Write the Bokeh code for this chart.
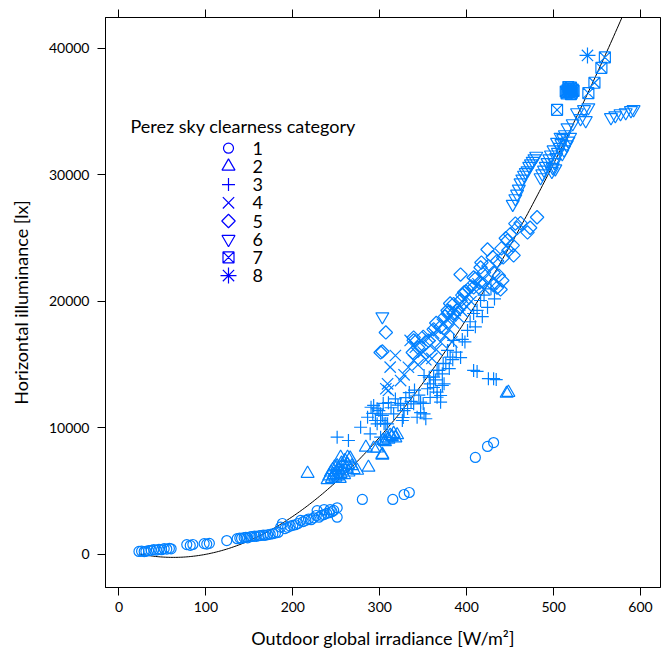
import numpy as np
from bokeh.plotting import figure
from bokeh.models import Range1d, FixedTicker, LinearAxis, Label, CustomJSTickFormatter
from bokeh.embed import file_html
from bokeh.resources import INLINE

# ---- data: outdoor global irradiance [W/m2] vs horizontal illuminance [lx],
# grouped by Perez sky clearness category (1..8)
cat1_x = [23, 26, 29, 31, 34, 37, 40, 43, 46, 49, 52, 55, 58, 60,
          78, 82, 85, 98, 101, 104, 124,
          136, 139, 141, 144, 146, 148, 151, 153, 156, 158, 161, 163, 166, 168, 171, 174, 177, 180, 183,
          186, 188, 191, 194, 197, 200, 203, 206, 209, 212, 215, 218, 221, 224, 227, 230, 233, 236, 239,
          242, 245, 247, 251, 251, 228, 236, 243,
          280, 315, 328, 334, 410, 424, 431]
cat1_y = [240, 260, 230, 250, 300, 330, 390, 350, 400, 380, 460, 430, 480, 450,
          780, 720, 790, 860, 820, 880, 1100,
          1250, 1300, 1280, 1330, 1350, 1320, 1400, 1420, 1450, 1430, 1480, 1500, 1530, 1510, 1560, 1600, 1640, 1700, 1740,
          2160, 2450, 2050, 2150, 2250, 2300, 2350, 2450, 2690, 2600, 2700, 2800, 2750, 2900, 3080, 2950, 3100, 3150, 3250,
          3300, 3380, 3480, 3690, 2950, 3470, 3550, 3550,
          4350, 4350, 4740, 4900, 7670, 8540, 8850]

cat2_x = [217, 240, 242, 244, 245, 246, 247, 248, 249, 250, 251, 252, 253, 254, 255, 256, 257, 258, 259, 260,
          262, 263, 264, 266, 268, 270, 274, 255, 263, 284, 287, 293, 297, 303, 303, 304, 306, 308, 310, 312,
          314, 316, 318, 320, 446, 448]
cat2_y = [6400, 5900, 6200, 6500, 6000, 6700, 6300, 6900, 6100, 6500, 7000, 6200, 6700, 6000, 6400, 7200, 6600, 6900, 6300, 7400,
          6800, 7100, 6500, 7600, 7000, 6700, 6640, 7670, 7670, 8460, 6880, 8380, 8400, 7900, 7830, 9000, 8900, 9200, 9100, 9400,
          9300, 9550, 9200, 9450, 12730, 12800]

cat3_x = [251, 264, 278, 286, 289, 290, 292, 293, 295, 297, 297, 299, 301, 301, 301, 303, 304, 305, 307, 309,
          310, 313, 316, 318, 321, 324, 326, 327, 328, 330, 332, 334, 336, 339, 340, 343, 345, 347, 347, 350,
          351, 353, 355, 358, 358, 362, 364, 366, 366, 370, 370, 372, 374, 351, 357, 362, 368, 372, 376, 381,
          366, 373, 378, 380, 384, 385, 388, 393, 395, 398, 401, 404, 408, 410, 412, 416, 418, 420, 424, 428,
          432, 408, 412, 425, 431, 434]
cat3_y = [9270, 9010, 10060, 10850, 9540, 11640, 11150, 11780, 10590, 10330, 11520, 11380, 9270, 10590, 11120, 10990, 11940, 10330, 10360, 10330,
          12000, 11600, 11120, 12300, 11800, 11940, 10590, 10830, 11380, 12400, 11540, 12800, 12100, 11910, 13000, 10850, 12600, 12040, 11220, 11940,
          11120, 10730, 13100, 12410, 13490, 13200, 13800, 12430, 12830, 12040, 12570, 13360, 13490, 14150, 14020, 14020, 14550, 14280, 15080, 15600,
          14550, 15100, 16130, 14700, 15400, 16920, 16000, 15570, 17000, 16800, 17710, 18400, 19050, 18000, 19300, 20080, 18800, 20500, 19530, 21000,
          20200, 14550, 14470, 13900, 13900, 13830]

cat4_x = [307, 309, 310, 312, 318, 324, 328, 333, 335, 339, 341, 344, 347, 347, 350, 353, 355, 358, 360, 362,
          365, 367, 370, 372, 375, 377, 380, 382, 385, 387, 390, 392, 395, 397, 400, 402, 405, 408, 413, 418,
          420, 425, 383]
cat4_y = [13100, 13490, 12960, 14810, 15730, 13750, 14200, 14800, 16920, 15340, 16390, 15000, 15870, 16920, 16000, 15400, 17180, 16500, 15500, 17500,
          16200, 17800, 16800, 18200, 17300, 18600, 17800, 18900, 18300, 19300, 18800, 19700, 19200, 20200, 19600, 20600, 20000, 21000, 21400, 21800,
          21000, 21500, 16800]

cat5_x = [301, 303, 307, 338, 339, 344, 339, 350, 356, 362, 365, 370, 375, 378, 379, 381, 385, 389, 385, 393,
          397, 399, 395, 405, 408, 408, 393, 410, 415, 416, 417, 420, 424, 425, 431, 431, 435, 437, 439, 441,
          442, 430, 435, 440, 445, 447, 448, 450, 453, 454, 456, 458, 462, 470, 473, 481]
cat5_y = [15970, 16050, 17550, 15970, 16920, 16360, 17150, 17200, 16900, 17800, 18300, 18000, 18800, 19290, 19130, 19840, 19050, 19290, 19800, 20080,
          20710, 20790, 20500, 21200, 21110, 21900, 22130, 21800, 21500, 22690, 23080, 22300, 24110, 22800, 21270, 22290, 21100, 22050, 20950, 21660,
          23480, 23500, 23200, 24200, 25000, 24820, 24030, 25300, 24430, 23640, 26160, 25800, 26200, 25460, 25830, 26660]

cat6_x = [303,
          453, 456, 458, 460, 462, 464, 466, 468, 470, 472, 474, 476, 478, 480,
          485, 487, 489, 491, 493, 495, 497,
          498, 499, 500, 501, 502, 503, 504, 505, 507, 508, 509, 510, 511, 512, 513, 515, 517, 519,
          516, 522, 527, 531, 535, 537, 540,
          566, 571, 577, 583, 589, 592]
cat6_y = [18810,
          27700, 28140, 28500, 28900, 29400, 29700, 30000, 30200, 30350, 30700, 30900, 31100, 31300, 31500,
          29800, 30100, 30400, 30700, 31000, 31300, 31600,
          30300, 30600, 32000, 31000, 30500, 31400, 32600, 31800, 32200, 33000, 32500, 31700, 32900, 32000, 33200, 32400, 32700, 33000,
          33750, 34070, 34940, 34470, 35180, 34310, 35330,
          34550, 34700, 34860, 34940, 35100, 35180]

cat7_x = [504, 540, 547, 555, 559, 514, 515, 516, 517, 517, 518, 519, 520, 520, 521, 522, 523]
cat7_y = [35150, 36470, 37290, 38470, 39300, 36600, 36450, 36700, 36550, 36950, 36800, 36600, 36900, 36400, 36500, 36750, 36650]

cat8_x = [539]
cat8_y = [39450]

categories = ["1", "2", "3", "4", "5", "6", "7", "8"]

# points
curve_x = [30, 74, 105, 132, 186, 243, 276, 297, 347, 355, 427.5, 460, 470, 516, 571]
curve_y = [-25, -80, 55, 450, 2160, 5590, 7430, 9270, 13230, 14020, 21660, 25610, 27190, 32730, 41420]

x_ticks = [0, 100, 200, 300, 400, 500, 600]
y_ticks = [0, 10000, 20000, 30000, 40000]

# ---- styling
POINT_COLOR = "#0080ff"
KEY_COLOR = "#0000ff"
FONT = "Lato"
W, H = 662, 660
BORDER_L, BORDER_R, BORDER_T, BORDER_B = 105, 2, 17, 73
FRAME_W = W - BORDER_L - BORDER_R
FRAME_H = H - BORDER_T - BORDER_B
X0, X1 = -15.5, 623
Y0, Y1 = -2610, 42450

# marker, size, angle for each category symbol
symbols = [("circle", 10, 0.0), ("triangle", 13, 0.0), ("cross", 13, 0.0), ("x", 16, 0.0),
           ("square", 9.5, np.pi / 4), ("inverted_triangle", 13, 0.0), ("square_x", 11, 0.0),
           ("asterisk", 16, 0.0)]
series = [(cat1_x, cat1_y), (cat2_x, cat2_y), (cat3_x, cat3_y), (cat4_x, cat4_y),
          (cat5_x, cat5_y), (cat6_x, cat6_y), (cat7_x, cat7_y), (cat8_x, cat8_y)]

p = figure(width=W, height=H, output_backend="svg", toolbar_location=None,
           x_range=Range1d(X0, X1), y_range=Range1d(Y0, Y1),
           min_border_left=BORDER_L, min_border_right=BORDER_R,
           min_border_top=BORDER_T, min_border_bottom=BORDER_B)
p.xgrid.visible = False
p.ygrid.visible = False
p.outline_line_color = "black"
p.outline_line_width = 1
p.background_fill_color = "white"
p.border_fill_color = "white"

for ax, ticks in ((p.xaxis[0], x_ticks), (p.yaxis[0], y_ticks)):
    ax.ticker = FixedTicker(ticks=ticks)
    ax.major_tick_out = 8
    ax.major_tick_in = 0
    ax.minor_tick_line_color = None
    ax.axis_line_color = "black"
    ax.major_tick_line_color = "black"
    ax.major_label_text_font = FONT
    ax.major_label_text_font_size = "14px"
    ax.major_label_text_color = "black"
    ax.axis_label_text_font = FONT
    ax.axis_label_text_font_size = "18px"
    ax.axis_label_text_font_style = "normal"
    ax.axis_label_text_color = "black"

p.xaxis.axis_label = "Outdoor global irradiance [W/m\u00b2]"
p.yaxis.axis_label = "Horizontal illuminance [lx]"
p.xaxis.major_label_standoff = 6
p.xaxis.axis_label_standoff = 12
p.yaxis.major_label_standoff = 8
p.yaxis.axis_label_standoff = 14

# unlabelled tick marks along the top edge
top = LinearAxis(ticker=FixedTicker(ticks=x_ticks), major_tick_out=8, major_tick_in=0,
                 minor_tick_line_color=None, major_label_standoff=0,
                 formatter=CustomJSTickFormatter(code="return ''"),
                 axis_line_color="black")
p.add_layout(top, "above")

# trend curve: cubic least-squares through the read curve points
coef = np.polyfit(curve_x, curve_y, 3)
all_x = np.concatenate([np.asarray(s[0], float) for s in series])
grid = np.linspace(all_x.min(), all_x.max(), 300)
p.line(grid, np.polyval(coef, grid), line_color="black", line_width=1)

for (xs, ys), (marker, size, angle) in zip(series, symbols):
    p.scatter(xs, ys, marker=marker, size=size, angle=angle, fill_color=None,
              line_color=POINT_COLOR, line_width=1.2)


# ---- key (placed in pixel terms inside the panel)
def px_to_x(px):
    return X0 + (px - BORDER_L) / FRAME_W * (X1 - X0)


def py_to_y(py):
    return Y1 - (py - BORDER_T) / FRAME_H * (Y1 - Y0)


KEY_SYM_PX, KEY_LAB_PX, KEY_ROW0_PY, KEY_ROW_STEP = 228, 252, 147.7, 18.2
for i, (name, (marker, size, angle)) in enumerate(zip(categories, symbols)):
    row_py = KEY_ROW0_PY + i * KEY_ROW_STEP
    p.scatter([px_to_x(KEY_SYM_PX)], [py_to_y(row_py)], marker=marker, size=size,
              angle=angle, fill_color=None, line_color=KEY_COLOR, line_width=1.2)
    p.add_layout(Label(x=KEY_LAB_PX - BORDER_L, y=BORDER_T + FRAME_H - row_py,
                       x_units="screen", y_units="screen", text=name, text_font=FONT,
                       text_font_size="18px", text_color="black", text_baseline="middle"))

p.add_layout(Label(x=130 - BORDER_L, y=BORDER_T + FRAME_H - 125,
                   x_units="screen", y_units="screen",
                   text="Perez sky clearness category", text_font=FONT,
                   text_font_size="18px", text_color="black", text_baseline="middle"))

open("out.html", "w").write(file_html(p, INLINE))
